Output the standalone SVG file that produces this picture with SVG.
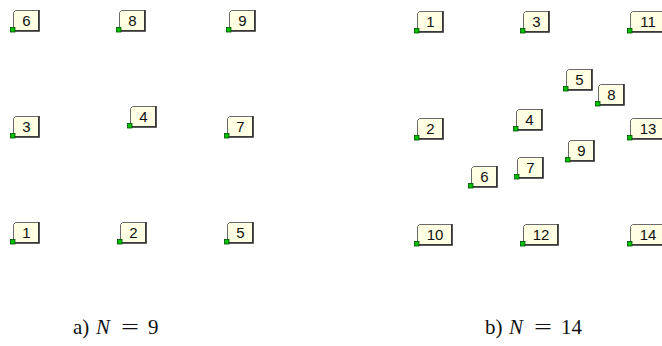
<svg xmlns="http://www.w3.org/2000/svg" width="662" height="346" viewBox="0 0 662 346">
<style>
.box{fill:#ffffe4;stroke:#6a6a6a;stroke-width:1}
.sh{fill:none;stroke:#2a2a2a;stroke-width:1.6}
.pin{fill:#00c000;stroke:#005000;stroke-width:0.8}
.lbl{font-family:"Liberation Sans",Arial,sans-serif;font-size:15px;fill:#111;text-anchor:middle}
.cap{font-family:"Liberation Serif","DejaVu Serif",serif;font-size:21px;fill:#111}
</style>
<defs>
<g id="n1">
<polygon class="box" points="0.5,-18.5 2.5,-20.5 25.5,-20.5 25.5,-0.5 0.5,-0.5"/>
<polyline class="sh" points="26,-21 26,0 1,0"/>
<rect class="pin" x="-2.5" y="-3.5" width="4.5" height="4.5"/>
</g>
<g id="n2">
<polygon class="box" points="0.5,-18.5 2.5,-20.5 34.5,-20.5 34.5,-0.5 0.5,-0.5"/>
<polyline class="sh" points="35,-21 35,0 1,0"/>
<rect class="pin" x="-2.5" y="-3.5" width="4.5" height="4.5"/>
</g>
</defs>
<g id="panel-a">
<g id="a6" transform="translate(13,31)"><use href="#n1"/><text class="lbl" x="13.5" y="-5">6</text></g>
<g id="a8" transform="translate(119,31)"><use href="#n1"/><text class="lbl" x="13.5" y="-5">8</text></g>
<g id="a9" transform="translate(229,31)"><use href="#n1"/><text class="lbl" x="13.5" y="-5">9</text></g>
<g id="a3" transform="translate(13,137)"><use href="#n1"/><text class="lbl" x="13.5" y="-5">3</text></g>
<g id="a4" transform="translate(130,127)"><use href="#n1"/><text class="lbl" x="13.5" y="-5">4</text></g>
<g id="a7" transform="translate(227,137)"><use href="#n1"/><text class="lbl" x="13.5" y="-5">7</text></g>
<g id="a1" transform="translate(13,243)"><use href="#n1"/><text class="lbl" x="13.5" y="-5">1</text></g>
<g id="a2" transform="translate(120,243)"><use href="#n1"/><text class="lbl" x="13.5" y="-5">2</text></g>
<g id="a5" transform="translate(227,243)"><use href="#n1"/><text class="lbl" x="13.5" y="-5">5</text></g>
</g>
<g id="panel-b">
<g id="b1" transform="translate(417,32)"><use href="#n1"/><text class="lbl" x="13.5" y="-5">1</text></g>
<g id="b3" transform="translate(523,32)"><use href="#n1"/><text class="lbl" x="13.5" y="-5">3</text></g>
<g id="b11" transform="translate(630,32)"><use href="#n2"/><text class="lbl" x="18" y="-5">11</text></g>
<g id="b5" transform="translate(566,90)"><use href="#n1"/><text class="lbl" x="13.5" y="-5">5</text></g>
<g id="b8" transform="translate(598,105)"><use href="#n1"/><text class="lbl" x="13.5" y="-5">8</text></g>
<g id="b4" transform="translate(516,130)"><use href="#n1"/><text class="lbl" x="13.5" y="-5">4</text></g>
<g id="b2" transform="translate(417,139)"><use href="#n1"/><text class="lbl" x="13.5" y="-5">2</text></g>
<g id="b13" transform="translate(630,139)"><use href="#n2"/><text class="lbl" x="18" y="-5">13</text></g>
<g id="b9" transform="translate(568,161)"><use href="#n1"/><text class="lbl" x="13.5" y="-5">9</text></g>
<g id="b7" transform="translate(517,178)"><use href="#n1"/><text class="lbl" x="13.5" y="-5">7</text></g>
<g id="b6" transform="translate(471,187)"><use href="#n1"/><text class="lbl" x="13.5" y="-5">6</text></g>
<g id="b10" transform="translate(417,245)"><use href="#n2"/><text class="lbl" x="18" y="-5">10</text></g>
<g id="b12" transform="translate(523,245)"><use href="#n2"/><text class="lbl" x="18" y="-5">12</text></g>
<g id="b14" transform="translate(630,245)"><use href="#n2"/><text class="lbl" x="18" y="-5">14</text></g>
</g>
<g id="connectors"></g>
<g id="caption-a">
<text class="cap" y="334"><tspan x="73">a)</tspan><tspan x="96" font-style="italic">N</tspan><tspan x="148">9</tspan></text>
<text class="cap" x="121" y="334" textLength="18" lengthAdjust="spacingAndGlyphs">=</text>
</g>
<g id="caption-b">
<text class="cap" y="334"><tspan x="485">b)</tspan><tspan x="509" font-style="italic">N</tspan><tspan x="561">14</tspan></text>
<text class="cap" x="534" y="334" textLength="18" lengthAdjust="spacingAndGlyphs">=</text>
</g>
</svg>
